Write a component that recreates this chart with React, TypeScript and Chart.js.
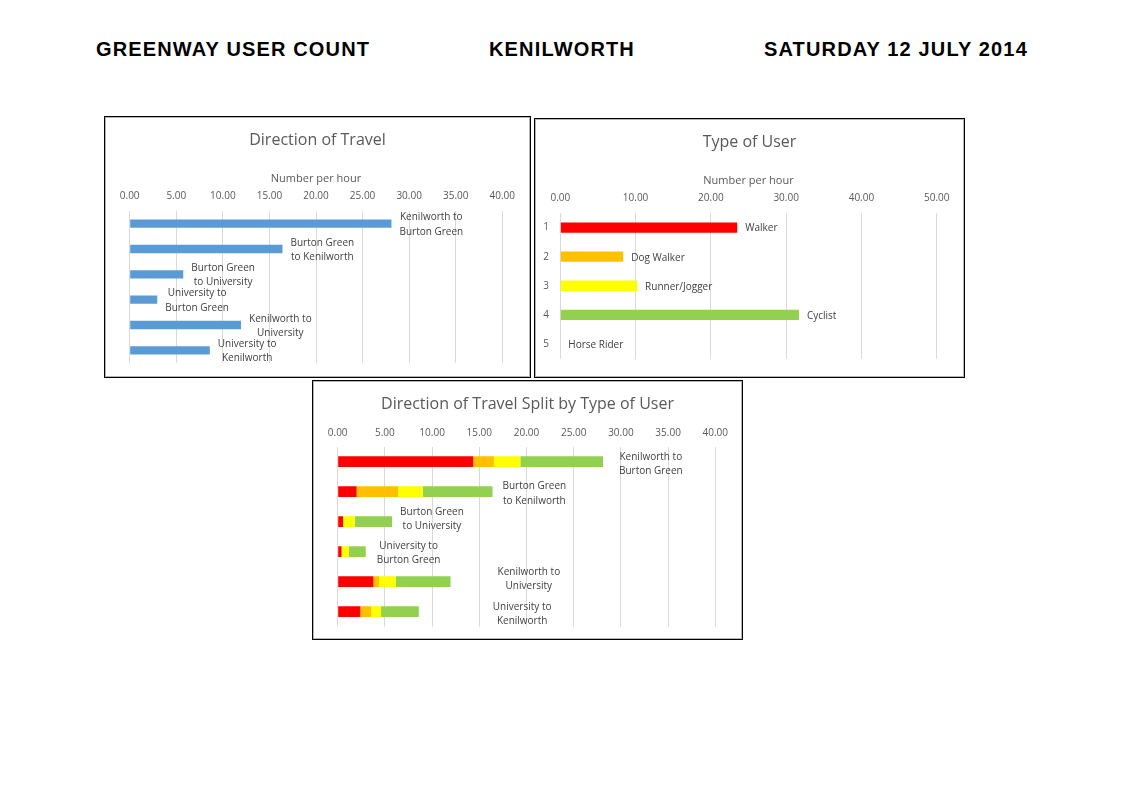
import React, { useEffect, useRef } from "react";
import { Chart, registerables } from "chart.js";

Chart.register(...registerables);

// ---------- data ----------
const directions: string[][] = [
  ["Kenilworth to", "Burton Green"],
  ["Burton Green", "to Kenilworth"],
  ["Burton Green", "to University"],
  ["University to", "Burton Green"],
  ["Kenilworth to", "University"],
  ["University to", "Kenilworth"],
];
const directionTotals = [28.1, 16.4, 5.75, 2.96, 11.95, 8.6];

const userTypeTicks = ["1", "2", "3", "4", "5"];
const userTypes = ["Walker", "Dog Walker", "Runner/Jogger", "Cyclist", "Horse Rider"];
const userTypeTotals = [23.5, 8.35, 10.2, 31.7, 0];

const splitSeries = ["Walker", "Dog Walker", "Runner/Jogger", "Cyclist"];
const walkerByDirection = [14.35, 2.0, 0.57, 0.4, 3.78, 2.4];
const dogWalkerByDirection = [2.2, 4.4, 0, 0, 0.6, 1.13];
const runnerByDirection = [2.8, 2.6, 1.23, 0.8, 1.77, 1.06];
const cyclistByDirection = [8.75, 7.4, 3.96, 1.77, 5.8, 4.0];

const headerTexts = ["GREENWAY USER COUNT", "KENILWORTH", "SATURDAY 12 JULY 2014"];

// ---------- styles ----------
const FONT = "'Open Sans', 'DejaVu Sans', sans-serif";
const GREY_TEXT = "#595959";
const LABEL_TEXT = "#404040";
const GRID = "#d9d9d9";
const BLUE = "#5b9bd5";
const RED = "#ff0000";
const ORANGE = "#ffc000";
const YELLOW = "#ffff00";
const GREEN = "#92d050";

Chart.defaults.font.family = FONT;

type LabelCfg = {
  texts: string[][];
  gap: number | number[];
  align: "center" | "left";
  lineHeight: number;
  dy: number | number[];
};

function makeLabelPlugin(cfg: LabelCfg) {
  return {
    id: "barLabels",
    afterDatasetsDraw(chart: any) {
      const ctx = chart.ctx as CanvasRenderingContext2D;
      const metas = chart.getSortedVisibleDatasetMetas();
      const last = metas[metas.length - 1];
      ctx.save();
      ctx.font = `10px ${FONT}`;
      ctx.fillStyle = LABEL_TEXT;
      ctx.textBaseline = "middle";
      cfg.texts.forEach((lines, i) => {
        const el = last.data[i];
        if (!el) return;
        const gap = Array.isArray(cfg.gap) ? cfg.gap[i] : cfg.gap;
        const dy = Array.isArray(cfg.dy) ? cfg.dy[i] : cfg.dy;
        const left = el.x + gap;
        const w = Math.max(...lines.map((l) => ctx.measureText(l).width));
        const n = lines.length;
        lines.forEach((line, k) => {
          const y = el.y + dy + (k - (n - 1) / 2) * cfg.lineHeight;
          if (cfg.align === "center") {
            ctx.textAlign = "center";
            ctx.fillText(line, left + w / 2, y);
          } else {
            ctx.textAlign = "left";
            ctx.fillText(line, left, y);
          }
        });
      });
      ctx.restore();
    },
  };
}

function titleOpts(text: string) {
  return {
    display: true,
    text,
    color: GREY_TEXT,
    font: { size: 16, weight: "normal" as const, lineHeight: 1.2 },
    padding: { top: 13.1, bottom: 8.9 },
  };
}

function xAxis(max: number, step: number, height: number, tickPad: number, withTitle: boolean) {
  return {
    position: "top" as const,
    min: 0,
    max,
    stacked: true,
    ticks: {
      stepSize: step,
      padding: tickPad,
      color: GREY_TEXT,
      font: { size: 10, lineHeight: 1.2 },
      maxRotation: 0,
      callback: (v: any) => Number(v).toFixed(2),
    },
    grid: { color: GRID, lineWidth: 1, drawTicks: false },
    border: { display: false },
    title: {
      display: withTitle,
      text: "Number per hour",
      color: GREY_TEXT,
      font: { size: 11, lineHeight: 1.2 },
      padding: { top: 13.1, bottom: 0 },
    },
    afterFit: (s: any) => {
      s.height = height;
    },
  };
}

function yAxis(width: number, showTicks: boolean) {
  return {
    stacked: true,
    ticks: {
      display: showTicks,
      padding: 11.4,
      color: GREY_TEXT,
      font: { size: 10, lineHeight: 1.2 },
    },
    grid: { display: false, drawTicks: false },
    border: { display: false },
    afterFit: (s: any) => {
      s.width = width;
    },
  };
}

// empty right-hand gutter so the chart title stays centred on the whole canvas
function rightGutter(width: number) {
  return {
    type: "linear" as const,
    position: "right" as const,
    display: true,
    ticks: { display: false },
    grid: { display: false, drawTicks: false },
    border: { display: false },
    afterFit: (s: any) => {
      s.width = width;
    },
  };
}

function buildDirection() {
  return {
    type: "bar" as const,
    data: {
      labels: directions.map((d) => d.join(" ")),
      datasets: [
        {
          label: "Number per hour",
          data: directionTotals,
          backgroundColor: BLUE,
          barPercentage: 0.33,
          categoryPercentage: 1,
        },
      ],
    },
    options: {
      indexAxis: "y" as const,
      responsive: false,
      animation: false as const,
      layout: { padding: { left: 0, right: 0, top: 0, bottom: 13 } },
      plugins: {
        legend: { display: false },
        tooltip: { enabled: false },
        title: titleOpts("Direction of Travel"),
      },
      scales: {
        x: xAxis(40, 5, 51.8, 8.5, true),
        y: yAxis(23.7, false),
        gutter: rightGutter(26.7),
      },
    },
    plugins: [
      makeLabelPlugin({ texts: directions, gap: 8, align: "center", lineHeight: 14.5, dy: 1 }),
    ],
  };
}

function buildUserType() {
  return {
    type: "bar" as const,
    data: {
      labels: userTypeTicks,
      datasets: [
        {
          label: "Number per hour",
          data: userTypeTotals,
          backgroundColor: [RED, ORANGE, YELLOW, GREEN, "#7f7f7f"],
          barPercentage: 0.356,
          categoryPercentage: 1,
        },
      ],
    },
    options: {
      indexAxis: "y" as const,
      responsive: false,
      animation: false as const,
      layout: { padding: { left: 0, right: 0, top: 0, bottom: 13 } },
      plugins: {
        legend: { display: false },
        tooltip: { enabled: false },
        title: titleOpts("Type of User"),
      },
      scales: {
        x: xAxis(50, 10, 51.8, 8.5, true),
        y: yAxis(24.3, true),
        gutter: rightGutter(26.3),
      },
    },
    plugins: [
      makeLabelPlugin({
        texts: userTypes.map((t) => [t]),
        gap: 8,
        align: "left",
        lineHeight: 14.5,
        dy: 1,
      }),
    ],
  };
}

function buildSplit() {
  const series = [walkerByDirection, dogWalkerByDirection, runnerByDirection, cyclistByDirection];
  const colors = [RED, ORANGE, YELLOW, GREEN];
  return {
    type: "bar" as const,
    data: {
      labels: directions.map((d) => d.join(" ")),
      datasets: series.map((s, i) => ({
        label: splitSeries[i],
        data: s,
        backgroundColor: colors[i],
        barPercentage: 0.356,
        categoryPercentage: 1,
      })),
    },
    options: {
      indexAxis: "y" as const,
      responsive: false,
      animation: false as const,
      layout: { padding: { left: 0, right: 0, top: 0, bottom: 11.3 } },
      plugins: {
        legend: { display: false },
        tooltip: { enabled: false },
        title: titleOpts("Direction of Travel Split by Type of User"),
      },
      scales: {
        x: xAxis(40, 5, 23.5, 7.9, false),
        y: yAxis(23.7, false),
        gutter: rightGutter(25.7),
      },
    },
    plugins: [
      makeLabelPlugin({
        texts: directions,
        gap: [16, 10, 8, 11, 47, 74],
        align: "center",
        lineHeight: 14.5,
        dy: [2.5, 2, -2.5, 1.5, -2.5, 2.5],
      }),
    ],
  };
}

function ChartBox(props: { left: number; top: number; width: number; height: number; build: () => any }) {
  const { left, top, width, height, build } = props;
  const ref = useRef<HTMLCanvasElement>(null);
  useEffect(() => {
    const chart = new Chart(ref.current as HTMLCanvasElement, build());
    return () => chart.destroy();
  }, []);
  const cw = width - 4;
  const ch = height - 4;
  return (
    <div
      style={{
        position: "absolute",
        left,
        top,
        width,
        height,
        boxSizing: "border-box",
        border: "1px solid #000",
        background: "#fff",
      }}
    >
      <div style={{ boxSizing: "border-box", width: "100%", height: "100%", border: "1px solid #b4b4b4" }}>
        <canvas ref={ref} width={cw} height={ch} style={{ display: "block", width: cw, height: ch }} />
      </div>
    </div>
  );
}

export default function App() {
  const headerStyle: React.CSSProperties = {
    position: "absolute",
    top: 39,
    fontFamily: "'Liberation Sans', Arial, sans-serif",
    fontWeight: "bold",
    fontSize: 20,
    lineHeight: "20px",
    letterSpacing: "1.15px",
    color: "#000",
    whiteSpace: "nowrap",
  };
  const headerLefts = [96, 489, 764];
  return (
    <div style={{ position: "absolute", left: 0, top: 0, width: 1123, height: 794, background: "#fff" }}>
      {headerTexts.map((t, i) => (
        <div key={t} style={{ ...headerStyle, left: headerLefts[i] }}>
          {t}
        </div>
      ))}
      <ChartBox left={104} top={116} width={427} height={262} build={buildDirection} />
      <ChartBox left={534} top={118} width={431} height={260} build={buildUserType} />
      <ChartBox left={312} top={380} width={431} height={260} build={buildSplit} />
    </div>
  );
}
